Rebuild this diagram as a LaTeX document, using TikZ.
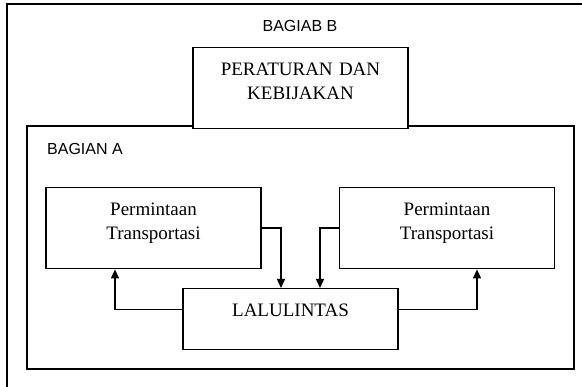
\documentclass[tikz,border=0pt]{standalone}
\usepackage{fontspec}
\setmainfont{Liberation Serif}
\newfontfamily\sansjudul{Liberation Sans}
\usetikzlibrary{arrows.meta}
\tikzset{
	garis/.style = {line width=1.4pt},
	kotak/.style = {garis, draw, fill=white, anchor=north, inner sep=0pt,
		text width=215pt, align=center, text height=28pt, text depth=53pt,
		font=\fontsize{19}{23.5}\selectfont},
	judul/.style = {font=\sansjudul\fontsize{16}{19}\selectfont, inner sep=0pt},
	panah/.style = {garis, -{Triangle[length=9pt,width=8pt]}}
}
\begin{document}
\begin{tikzpicture}[x=1pt, y=-1pt]
	\clip (0,0) rectangle (582,387);
	% bagian B
	\draw[garis] (7,4) rectangle (600,400);
	\node (judulB) at (300,32) [judul, anchor=base] {BAGIAB B};
	% bagian A
	\draw[garis] (27,126) rectangle (574,369);
	\node (judulA) at (47,155) [judul, anchor=base west] {BAGIAN A};
	\node (aturan) at (300.5,47) [kotak] {
		PERATURAN DAN\\ KEBIJAKAN
	};
	\node (kiri) at (153.5,187) [kotak] {
		Permintaan\\ Transportasi
	};
	\node (kanan) at (447,187) [kotak] {
		Permintaan\\ Transportasi
	};
	\node (lalu) at (290.5,288) [kotak, text depth=33pt] {
		LALULINTAS
	};
	\draw[panah] (kiri.east) -| ([xshift=-9.5pt]lalu.north);
	\draw[panah] (kanan.west) -| ([xshift=29.5pt]lalu.north);
	\draw[panah] ([yshift=9.5pt]lalu.west) -| ([xshift=-38.5pt]kiri.south);
	\draw[panah] ([yshift=9.5pt]lalu.east) -| ([xshift=30pt]kanan.south);
\end{tikzpicture}
\end{document}
